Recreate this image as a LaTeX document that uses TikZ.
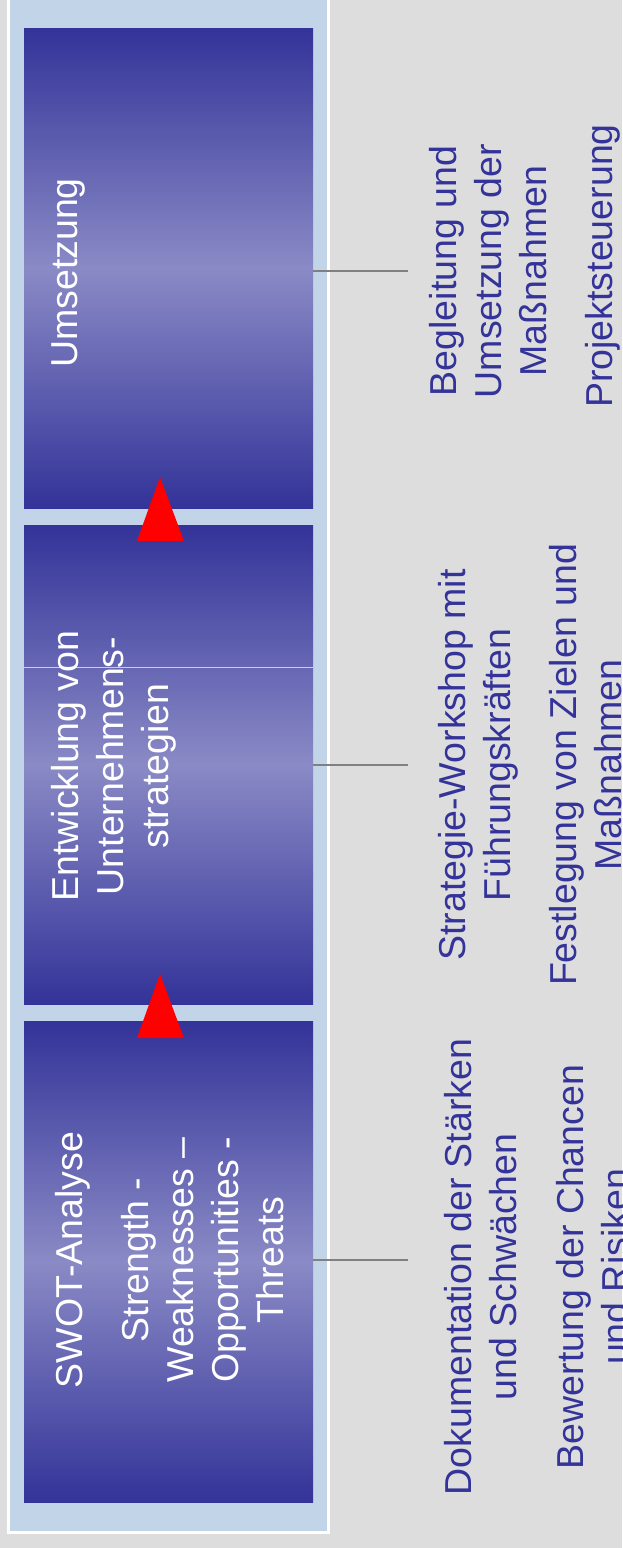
\documentclass[tikz,border=0pt]{standalone}
\usepackage{fontspec}
\setmainfont{Liberation Sans}
\definecolor{bg}{HTML}{DDDDDD}
\definecolor{panel}{HTML}{C2D4E8}
\definecolor{boxdark}{HTML}{333399}
\definecolor{boxlight}{HTML}{8A8AC6}
\definecolor{txtblue}{HTML}{333399}
\definecolor{conngray}{HTML}{808080}
\definecolor{seam}{HTML}{C8CCEE}
\tikzset{
  phase/.style={draw=none, inner sep=0, minimum width=289pt, minimum height=480pt,
    top color=boxdark, bottom color=boxdark, middle color=boxlight},
  lbl/.style={rotate=90, anchor=base, inner sep=0, font=\fontsize{37.5}{45}\selectfont},
  ltxt/.style={lbl, text=white},
  rtxt/.style={lbl, text=txtblue},
  conn/.style={draw=conngray, line width=2pt},
  uparrow/.style={fill=red, draw=none}
}
\begin{document}
\begin{tikzpicture}[x=1pt,y=-1pt]
\useasboundingbox (0,0) rectangle (622,1548);
\clip (0,0) rectangle (622,1548);
\fill[bg] (0,0) rectangle (622,1548);
\fill[white] (7,-5) rectangle (330,1534);
\fill[panel] (10,-5) rectangle (327,1531);
% phase boxes
\node[phase] (b1) at (168.5,268) {};
\node[phase, minimum height=479pt] (b2) at (168.5,764.5) {};
\node[phase, minimum height=481pt] (b3) at (168.5,1261.5) {};
\draw[seam, line width=0.8pt] (b2.west |- 0,667) -- (b2.east |- 0,667);
% arrows
\fill[uparrow] (160,477) -- (184,541) -- (137,541) -- cycle;
\fill[uparrow] (160,974) -- (184,1038) -- (137,1038) -- cycle;
% connectors
\coordinate (e1) at (408,271);
\coordinate (e2) at (408,765);
\coordinate (e3) at (408,1260);
\draw[conn] (b1.east |- e1) -- (e1);
\draw[conn] (b2.east |- e2) -- (e2);
\draw[conn] (b3.east |- e3) -- (e3);
% left texts
\node[ltxt] (t1) at (77,273) {Umsetzung};
\node[ltxt] (t2a) at (78,766) {Entwicklung von};
\node[ltxt] (t2b) at (123,766) {Unternehmens-};
\node[ltxt] (t2c) at (168,766) {strategien};
\node[ltxt] (t3a) at (82,1260) {SWOT-Analyse};
\node[ltxt] (t3b) at (148,1260) {Strength -};
\node[ltxt] (t3c) at (193,1260) {Weaknesses –};
\node[ltxt] (t3d) at (238,1260) {Opportunities -};
\node[ltxt] (t3e) at (283,1260) {Threats};
% right texts
\node[rtxt] (r1a) at (456,271) {Begleitung und};
\node[rtxt] (r1b) at (501,271) {Umsetzung der};
\node[rtxt] (r1c) at (546,271) {Maßnahmen};
\node[rtxt] (r1d) at (612,266) {Projektsteuerung};
\node[rtxt] (r2a) at (465,765) {Strategie-Workshop mit};
\node[rtxt] (r2b) at (510,765) {Führungskräften};
\node[rtxt] (r2c) at (576,765) {Festlegung von Zielen und};
\node[rtxt] (r2d) at (621,765) {Maßnahmen};
\node[rtxt] (r3a) at (471,1267) {Dokumentation der Stärken};
\node[rtxt] (r3b) at (516,1267) {und Schwächen};
\node[rtxt] (r3c) at (583,1267) {Bewertung der Chancen};
\node[rtxt] (r3d) at (628,1267) {und Risiken};
\end{tikzpicture}
\end{document}
